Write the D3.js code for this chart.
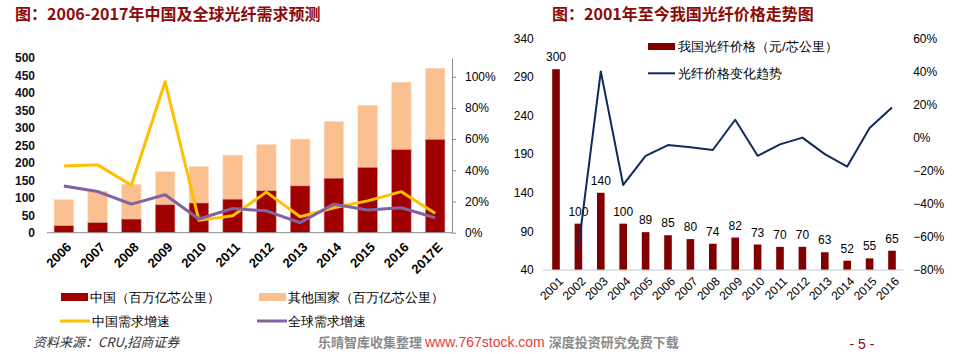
<!DOCTYPE html>
<html>
<head>
<meta charset="utf-8">
<script src="https://cdn.jsdelivr.net/npm/d3@7"></script>
<style>
  body { margin: 0; background: #fff; }
  svg { display: block; }
  text { font-family: "Liberation Sans", Arial, sans-serif; }
  .cjk { font-family: "Noto Sans CJK SC", sans-serif; }
</style>
</head>
<body>
<script>
// left chart: demand (million core-km) and growth
const yearsL = ["2006","2007","2008","2009","2010","2011","2012","2013","2014","2015","2016","2017E"];
const chinaDemand = [20, 29, 39, 80, 85, 96, 120, 134, 156, 187, 238, 267];
const otherDemand = [75, 90, 100, 95, 105, 126, 133, 134, 163, 178, 193, 204];
const chinaGrowth = [0.427, 0.435, 0.304, 0.968, 0.079, 0.108, 0.26, 0.102, 0.16, 0.204, 0.263, 0.124];
const globalGrowth = [0.30, 0.264, 0.183, 0.243, 0.088, 0.155, 0.14, 0.064, 0.183, 0.145, 0.16, 0.096];
const leftTicks = [0, 50, 100, 150, 200, 250, 300, 350, 400, 450, 500];
const pctTicksL = [0, 0.2, 0.4, 0.6, 0.8, 1.0];

// right chart: fibre price (yuan / core-km) and change
const yearsR = ["2001","2002","2003","2004","2005","2006","2007","2008","2009","2010","2011","2012","2013","2014","2015","2016"];
const price = [300, 100, 140, 100, 89, 85, 80, 74, 82, 73, 70, 70, 63, 52, 55, 65];
const priceChange = [null, -0.667, 0.40, -0.286, -0.11, -0.045, -0.059, -0.075, 0.108, -0.11, -0.041, 0, -0.10, -0.175, 0.058, 0.182];
const priceTicks = [40, 90, 140, 190, 240, 290, 340];
const pctTicksR = [-0.8, -0.6, -0.4, -0.2, 0, 0.2, 0.4, 0.6];

const svg = d3.select("body").append("svg").attr("width", 955).attr("height", 354);

const titleColor = "#8c0a0a";

// ---------- left chart ----------
svg.append("text").attr("class", "cjk").attr("x", 15).attr("y", 20)
  .attr("font-size", 16).attr("font-weight", "bold").attr("fill", titleColor)
  .text("图：2006-2017年中国及全球光纤需求预测");

const x = d3.scaleBand().domain(yearsL).range([47, 452]).paddingInner(0.42).paddingOuter(0.21);
const y = d3.scaleLinear().domain([0, 500]).range([232.7, 58]);
const yP = d3.scaleLinear().domain([0, 1.12]).range([232.7, 58]);

const stacked = yearsL.map((yr, i) => ({ yr, c: chinaDemand[i], o: otherDemand[i] }));

const gL = svg.append("g");
gL.selectAll("rect.other").data(stacked).enter().append("rect")
  .attr("x", d => x(d.yr)).attr("width", x.bandwidth())
  .attr("y", d => y(d.c + d.o)).attr("height", d => y(d.c) - y(d.c + d.o))
  .attr("fill", "#fac08f").attr("stroke", "#fde3cf").attr("stroke-width", 0.6);
gL.selectAll("rect.china").data(stacked).enter().append("rect")
  .attr("x", d => x(d.yr)).attr("width", x.bandwidth())
  .attr("y", d => y(d.c)).attr("height", d => y(0) - y(d.c))
  .attr("fill", "#a00000").attr("stroke", "#d99090").attr("stroke-width", 0.6);

gL.append("line").attr("x1", 47).attr("x2", 452).attr("y1", y(0)).attr("y2", y(0))
  .attr("stroke", "#8c8c8c").attr("stroke-width", 1);

const axL = gL.append("g").attr("transform", "translate(47,0)")
  .call(d3.axisLeft(y).tickValues(leftTicks).tickSize(0).tickPadding(12));
axL.select(".domain").remove();
axL.selectAll("text").attr("font-size", 12).attr("font-weight", "bold").attr("fill", "#101020")
  .attr("font-family", "Liberation Sans, Arial, sans-serif");

const axR = gL.append("g").attr("transform", "translate(452,0)")
  .call(d3.axisRight(yP).tickValues(pctTicksL).tickSize(4).tickSizeOuter(0).tickPadding(9).tickFormat(d3.format(".0%")));
axR.select(".domain").attr("stroke", "#8c8c8c");
axR.selectAll(".tick line").attr("stroke", "#8c8c8c");
axR.selectAll("text").attr("font-size", 12).attr("fill", "#000")
  .attr("font-family", "Liberation Sans, Arial, sans-serif");

gL.selectAll("text.xl").data(yearsL).enter().append("text")
  .attr("transform", d => `translate(${x(d) + x.bandwidth() / 2 + 5},${y(0) + 12}) rotate(-45)`)
  .attr("text-anchor", "end").attr("dy", "0.35em")
  .attr("font-family", "Liberation Serif, serif").attr("font-weight", "bold").attr("font-size", 13)
  .text(d => d);

const lineL = arr => d3.line()
  .x((d, i) => x(yearsL[i]) + x.bandwidth() / 2)
  .y(d => yP(d))(arr);
gL.append("path").attr("d", lineL(chinaGrowth)).attr("fill", "none")
  .attr("stroke", "#ffc000").attr("stroke-width", 3).attr("stroke-linejoin", "round");
gL.append("path").attr("d", lineL(globalGrowth)).attr("fill", "none")
  .attr("stroke", "#8064a2").attr("stroke-width", 3).attr("stroke-linejoin", "round");

// legend
const lg = svg.append("g").attr("class", "cjk").attr("font-size", 13);
lg.append("rect").attr("x", 61).attr("y", 293).attr("width", 27).attr("height", 8).attr("fill", "#a00000");
lg.append("text").attr("x", 90).attr("y", 302).text("中国（百万亿芯公里）");
lg.append("rect").attr("x", 259).attr("y", 293).attr("width", 27).attr("height", 8).attr("fill", "#fac08f");
lg.append("text").attr("x", 288).attr("y", 302).text("其他国家（百万亿芯公里）");
lg.append("line").attr("x1", 60).attr("x2", 90).attr("y1", 321).attr("y2", 321).attr("stroke", "#ffc000").attr("stroke-width", 3);
lg.append("text").attr("x", 92).attr("y", 326).text("中国需求增速");
lg.append("line").attr("x1", 257).attr("x2", 287).attr("y1", 321).attr("y2", 321).attr("stroke", "#8064a2").attr("stroke-width", 3);
lg.append("text").attr("x", 288).attr("y", 326).text("全球需求增速");

svg.append("text").attr("class", "cjk").attr("x", 33).attr("y", 347)
  .attr("font-size", 13).attr("font-style", "italic").attr("fill", "#333")
  .text("资料来源：CRU,招商证券");

// ---------- right chart ----------
svg.append("text").attr("class", "cjk").attr("x", 552).attr("y", 20)
  .attr("font-size", 16).attr("font-weight", "bold").attr("fill", titleColor)
  .text("图：2001年至今我国光纤价格走势图");

const x2 = d3.scaleBand().domain(yearsR).range([544.8, 903.2]).paddingInner(0.66).paddingOuter(0.33);
const y2 = d3.scaleLinear().domain([40, 340]).range([270, 38.3]);
const y2p = d3.scaleLinear().domain([-0.8, 0.6]).range([270, 38.3]);

const gR = svg.append("g");
gR.selectAll("rect.price").data(price).enter().append("rect")
  .attr("x", (d, i) => x2(yearsR[i])).attr("width", x2.bandwidth())
  .attr("y", d => y2(d)).attr("height", d => y2(40) - y2(d))
  .attr("fill", "#800000");
gR.selectAll("text.val").data(price).enter().append("text")
  .attr("x", (d, i) => x2(yearsR[i]) + x2.bandwidth() / 2)
  .attr("y", d => y2(d) - 8)
  .attr("text-anchor", "middle").attr("font-size", 12).text(d => d);

gR.append("line").attr("x1", 543).attr("x2", 903.2).attr("y1", y2(40)).attr("y2", y2(40))
  .attr("stroke", "#c8c8c8").attr("stroke-width", 1);

const ax2L = gR.append("g").attr("transform", "translate(544.8,0)")
  .call(d3.axisLeft(y2).tickValues(priceTicks).tickSize(0).tickPadding(11));
ax2L.select(".domain").remove();
ax2L.selectAll("text").attr("font-size", 12).attr("fill", "#000")
  .attr("font-family", "Liberation Sans, Arial, sans-serif");

const ax2R = gR.append("g").attr("transform", "translate(903.2,0)")
  .call(d3.axisRight(y2p).tickValues(pctTicksR).tickSize(0).tickPadding(10).tickFormat(d3.format(".0%")));
ax2R.select(".domain").remove();
ax2R.selectAll("text").attr("font-size", 12).attr("fill", "#000")
  .attr("font-family", "Liberation Sans, Arial, sans-serif");

gR.selectAll("text.xr").data(yearsR).enter().append("text")
  .attr("transform", d => `translate(${x2(d) + x2.bandwidth() / 2 + 5},${y2(40) + 9}) rotate(-45)`)
  .attr("text-anchor", "end").attr("dy", "0.35em").attr("font-size", 12)
  .text(d => d);

const line2 = d3.line()
  .defined(d => d !== null)
  .x((d, i) => x2(yearsR[i]) + x2.bandwidth() / 2)
  .y(d => y2p(d));
gR.append("path").attr("d", line2(priceChange)).attr("fill", "none")
  .attr("stroke", "#0f2a5e").attr("stroke-width", 2).attr("stroke-linejoin", "round");

const lg2 = svg.append("g").attr("class", "cjk").attr("font-size", 13);
lg2.append("rect").attr("x", 648).attr("y", 43).attr("width", 27).attr("height", 7).attr("fill", "#800000");
lg2.append("text").attr("x", 678).attr("y", 51).text("我国光纤价格（元/芯公里）");
lg2.append("line").attr("x1", 648).attr("x2", 675).attr("y1", 73.3).attr("y2", 73.3).attr("stroke", "#0f2a5e").attr("stroke-width", 2);
lg2.append("text").attr("x", 678).attr("y", 78).text("光纤价格变化趋势");

// footer watermark + page number
const wm = svg.append("text").attr("x", 318).attr("y", 347).attr("font-size", 13);
wm.append("tspan").attr("class", "cjk").attr("font-weight", "bold").attr("fill", "#8a8a8a").text("乐晴智库收集整理 ");
wm.append("tspan").attr("font-size", 14).attr("fill", "#e23c3c").text("www.767stock.com ");
wm.append("tspan").attr("class", "cjk").attr("font-weight", "bold").attr("fill", "#8a8a8a").text("深度投资研究免费下载");

svg.append("text").attr("x", 862).attr("y", 349).attr("text-anchor", "middle")
  .attr("font-size", 14).attr("fill", "#8c0a0a").text("- 5 -");
</script>
</body>
</html>
